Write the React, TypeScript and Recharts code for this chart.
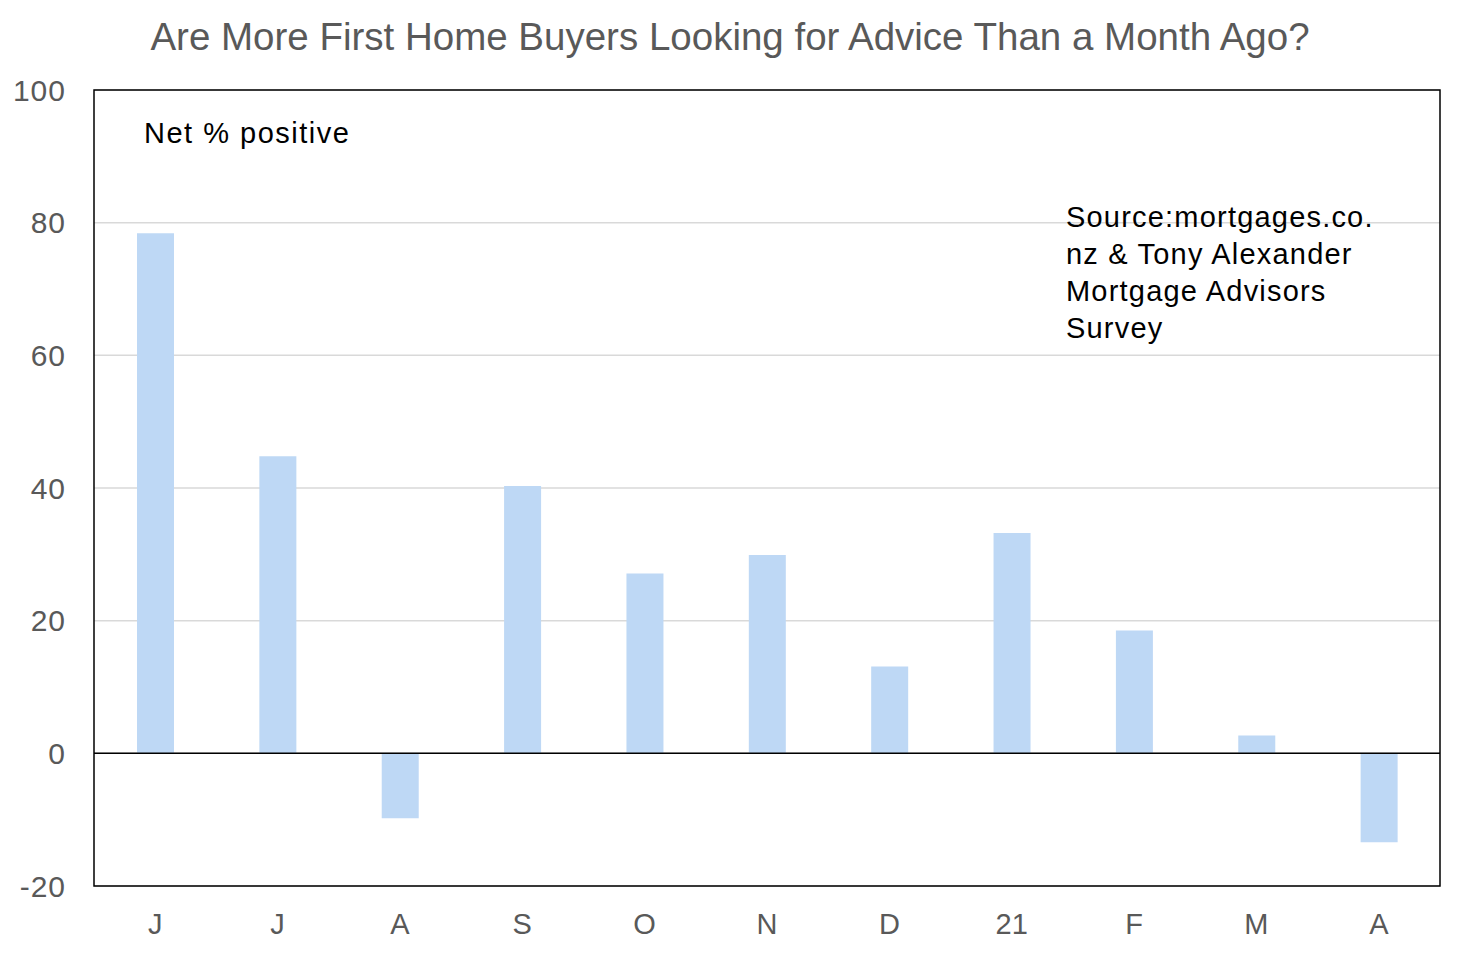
import React from 'react'
import { BarChart, Bar, XAxis, YAxis, CartesianGrid, ReferenceLine, ReferenceArea } from 'recharts'

// months from June 2020 to April 2021
const months = ['J', 'J', 'A', 'S', 'O', 'N', 'D', '21', 'F', 'M', 'A']
const netPositive = [78.4, 44.8, -9.8, 40.3, 27.1, 29.9, 13.1, 33.2, 18.5, 2.7, -13.4]
const yTicks = [-20, 0, 20, 40, 60, 80, 100]

const data = months.map((m, i) => ({ key: `${m}-${i}`, month: m, value: netPositive[i] }))

const FONT = '"Liberation Sans", Arial, sans-serif'
const GREY = '#595959'

export default function App() {
  return (
    <div style={{ position: 'absolute', left: 0, top: 0, width: 1462, height: 954, fontFamily: FONT, background: '#fff' }}>
      <div
        style={{
          position: 'absolute',
          top: 15,
          left: 0,
          width: 1460,
          textAlign: 'center',
          fontSize: 38.5,
          color: GREY,
          whiteSpace: 'nowrap'
        }}
      >
        Are More First Home Buyers Looking for Advice Than a Month Ago?
      </div>
      <BarChart
        width={1462}
        height={954}
        data={data}
        margin={{ top: 90, right: 22, bottom: 0, left: 0 }}
        barCategoryGap={0}
      >
        <CartesianGrid vertical={false} stroke="#d9d9d9" strokeWidth={1.5} />
        <XAxis
          dataKey="key"
          tickFormatter={(v: string) => v.split('-')[0]}
          height={68}
          axisLine={false}
          tickLine={false}
          tickSize={0}
          tickMargin={27}
          tick={{ fill: GREY, fontSize: 29, fontFamily: FONT }}
          interval={0}
        />
        <YAxis
          domain={[-20, 100]}
          ticks={yTicks}
          width={94}
          axisLine={false}
          tickLine={false}
          tickSize={0}
          tickMargin={28}
          tick={{ fill: GREY, fontSize: 30, fontFamily: FONT, letterSpacing: 1 }}
        />
        <Bar dataKey="value" fill="#bed8f5" barSize={37} isAnimationActive={false} />
        <ReferenceLine y={0} stroke="#000" strokeWidth={1.5} />
        <ReferenceArea y1={-20} y2={100} fill="none" stroke="#000" strokeWidth={1.5} ifOverflow="visible" />
      </BarChart>
      <div style={{ position: 'absolute', left: 144, top: 117, fontSize: 29, letterSpacing: 1.5, color: '#000' }}>
        Net % positive
      </div>
      <div
        style={{
          position: 'absolute',
          left: 1066,
          top: 199,
          fontSize: 29,
          lineHeight: '37px',
          letterSpacing: 1.2,
          color: '#000',
          width: 360
        }}
      >
        Source:mortgages.co.
        <br />
        nz &amp; Tony Alexander
        <br />
        Mortgage Advisors
        <br />
        Survey
      </div>
    </div>
  )
}
